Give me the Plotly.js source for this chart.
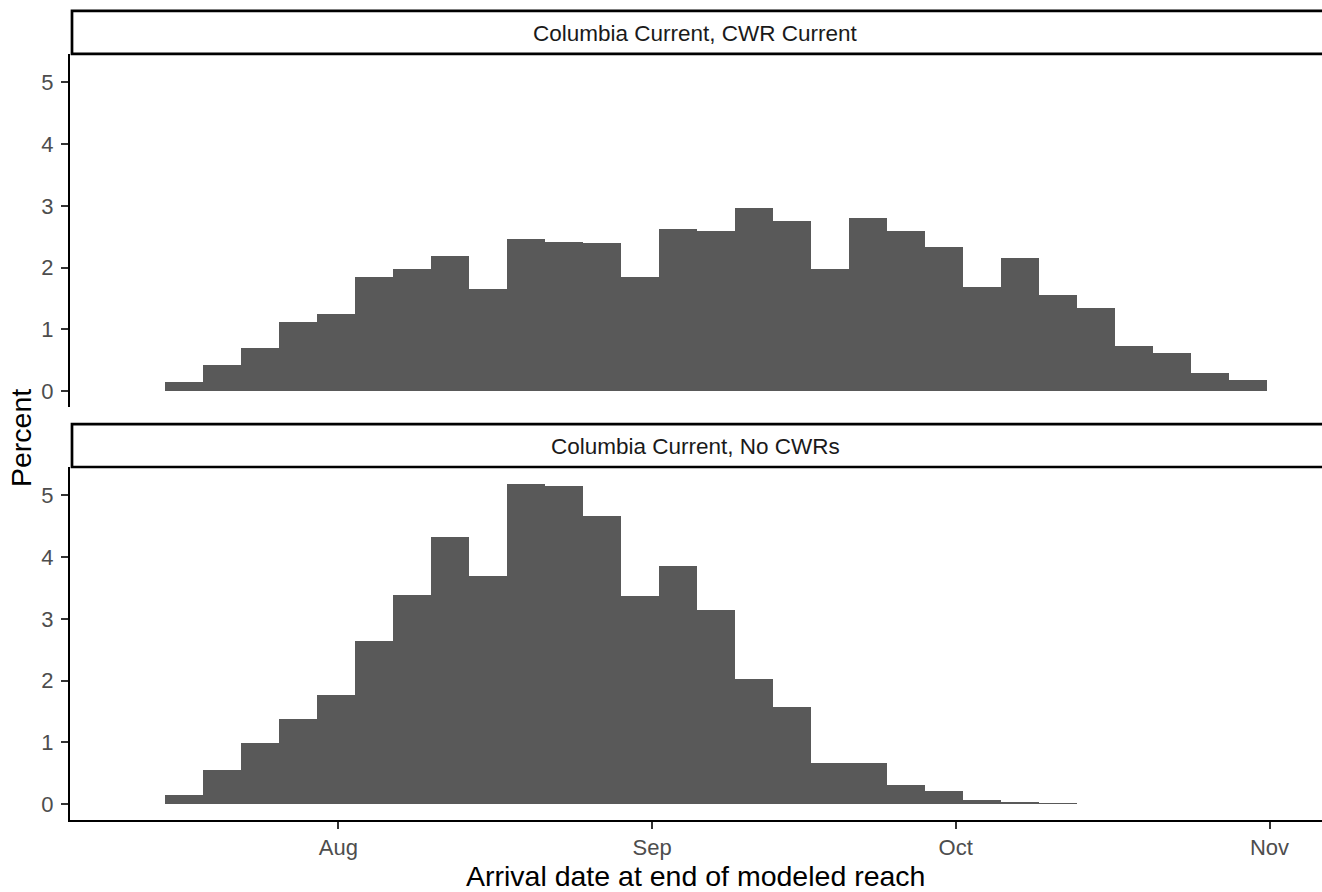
<!DOCTYPE html>
<html>
<head>
<meta charset="utf-8">
<script src="https://cdn.plot.ly/plotly-3.0.1.min.js"></script>
<style>html,body{margin:0;padding:0;background:#fff;}#chart{width:1322px;height:892px;}</style>
</head>
<body>
<div id="chart"></div>
<script>
// ---- data ----
const panelTitles = ["Columbia Current, CWR Current", "Columbia Current, No CWRs"];
const binStart = "2021-07-14 21:00:00";   // left edge of first histogram bin
const binWidthDays = 3.755;               // histogram bin width (days)
const pctCWR = [0.15, 0.42, 0.69, 1.12, 1.25, 1.84, 1.98, 2.18, 1.66, 2.47,
                2.42, 2.39, 1.85, 2.62, 2.60, 2.97, 2.75, 1.98, 2.81, 2.59,
                2.34, 1.69, 2.16, 1.56, 1.34, 0.73, 0.61, 0.29, 0.17];
const pctNoCWR = [0.14, 0.55, 0.98, 1.37, 1.76, 2.64, 3.39, 4.33, 3.70, 5.19,
                  5.15, 4.67, 3.37, 3.85, 3.14, 2.02, 1.57, 0.66, 0.66, 0.30,
                  0.205, 0.06, 0.026, 0.008];
const tickDates = ["2021-08-01", "2021-09-01", "2021-10-01", "2021-11-01"];
const tickLabels = ["Aug", "Sep", "Oct", "Nov"];
const xTitle = "Arrival date at end of modeled reach";
const yTitle = "Percent";

// ---- build ----
const DAY = 86400000;
const startMs = Date.parse(binStart.replace(" ", "T") + "Z");
function fmt(ms) { return new Date(ms).toISOString().slice(0, 19).replace("T", " "); }
function centers(n) {
  const out = [];
  for (let i = 0; i < n; i++) out.push(fmt(startMs + (i + 0.5) * binWidthDays * DAY));
  return out;
}
const barW = binWidthDays * DAY;
const FONT = "Liberation Sans, Arial, sans-serif";
const fill = "#595959";

const traces = [
  {type: "bar", x: centers(pctCWR.length), y: pctCWR, width: barW,
   marker: {color: fill, line: {width: 0}}, xaxis: "x", yaxis: "y", hoverinfo: "x+y"},
  {type: "bar", x: centers(pctNoCWR.length), y: pctNoCWR, width: barW,
   marker: {color: fill, line: {width: 0}}, xaxis: "x2", yaxis: "y2", hoverinfo: "x+y"}
];

const H = 892, W = 1322, L = 70;
const py = px => 1 - px / H;
const pxX = px => (px - L) / (W - L);
const xr = ["2021-07-05 11:45:00", "2021-11-06 04:30:00"];
const yr = [-0.26, 5.46];

const yax = {
  range: yr, tickvals: [0, 1, 2, 3, 4, 5], ticktext: ["0","1","2","3","4","5"],
  showgrid: false, zeroline: false, showline: true, linecolor: "#000", linewidth: 2,
  ticks: "outside", ticklen: 7, tickwidth: 2, tickcolor: "#333",
  tickfont: {family: FONT, size: 22, color: "#4d4d4d"}, ticklabelstandoff: 3, fixedrange: true
};

const layout = {
  width: W, height: H,
  margin: {l: L, r: 0, t: 0, b: 0},
  paper_bgcolor: "#fff", plot_bgcolor: "#fff",
  showlegend: false, bargap: 0,
  xaxis: {type: "date", range: xr, anchor: "y", showgrid: false, zeroline: false,
          showline: false, ticks: "", showticklabels: false, domain: [0, 1], matches: "x2"},
  xaxis2: {type: "date", range: xr, anchor: "y2", showgrid: false, zeroline: false,
           showline: true, linecolor: "#000", linewidth: 2,
           ticks: "outside", ticklen: 7, tickwidth: 2, tickcolor: "#333",
           tickvals: tickDates, ticktext: tickLabels,
           tickfont: {family: FONT, size: 22, color: "#4d4d4d"}, domain: [0, 1]},
  yaxis: Object.assign({}, yax, {domain: [py(407), py(54)], anchor: "x"}),
  yaxis2: Object.assign({}, yax, {domain: [py(820), py(467)], anchor: "x2"}),
  shapes: [
    {type: "rect", xref: "paper", yref: "paper", x0: pxX(72), x1: 1.02, y0: py(53.8), y1: py(10.8),
     line: {color: "#000", width: 2.7}, fillcolor: "#fff", layer: "above"},
    {type: "rect", xref: "paper", yref: "paper", x0: pxX(72), x1: 1.02, y0: py(467), y1: py(424.2),
     line: {color: "#000", width: 2.7}, fillcolor: "#fff", layer: "above"}
  ],
  annotations: [
    {text: panelTitles[0], xref: "paper", yref: "paper", x: pxX(695), y: py(33),
     xanchor: "center", yanchor: "middle", showarrow: false,
     font: {family: FONT, size: 22.5, color: "#1a1a1a"}},
    {text: panelTitles[1], xref: "paper", yref: "paper", x: pxX(695), y: py(446),
     xanchor: "center", yanchor: "middle", showarrow: false,
     font: {family: FONT, size: 22.5, color: "#1a1a1a"}},
    {text: xTitle, xref: "paper", yref: "paper", x: pxX(695.5), y: py(876),
     xanchor: "center", yanchor: "middle", showarrow: false,
     font: {family: FONT, size: 28.5, color: "#000"}},
    {text: yTitle, xref: "paper", yref: "paper", x: pxX(21), y: py(438), textangle: -90,
     xanchor: "center", yanchor: "middle", showarrow: false,
     font: {family: FONT, size: 28.5, color: "#000"}}
  ]
};

Plotly.newPlot("chart", traces, layout, {displayModeBar: false, staticPlot: true});
</script>
</body>
</html>
